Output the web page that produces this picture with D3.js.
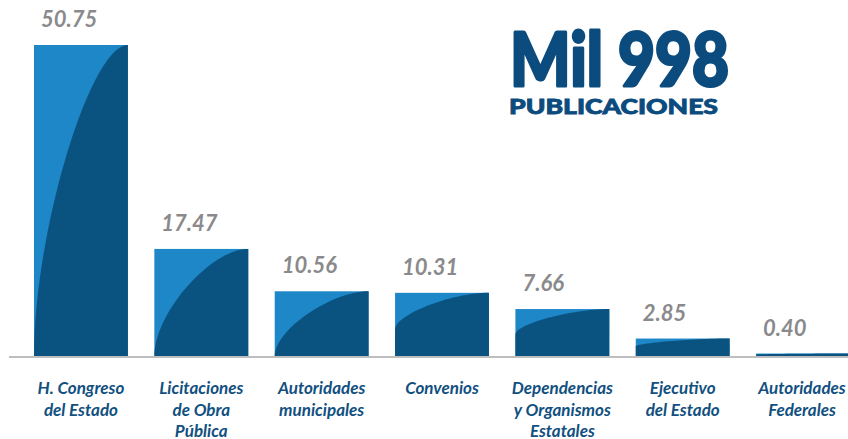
<!DOCTYPE html>
<html>
<head>
<meta charset="utf-8">
<script src="https://cdn.jsdelivr.net/npm/d3@7"></script>
<style>
  html, body { margin: 0; padding: 0; background: #fff; }
  svg { display: block; }
</style>
</head>
<body>
<div class="chart"></div>
<script>
var categories = [
    ['H. Congreso', 'del Estado'],
    ['Licitaciones', 'de Obra', 'Pública'],
    ['Autoridades', 'municipales'],
    ['Convenios'],
    ['Dependencias', 'y Organismos', 'Estatales'],
    ['Ejecutivo', 'del Estado'],
    ['Autoridades', 'Federales']
];
var values = [50.75, 17.47, 10.56, 10.31, 7.66, 2.85, 0.40];
var valueLabels = ['50.75', '17.47', '10.56', '10.31', '7.66', '2.85', '0.40'];
var titleBig = 'Mil 998';
var titleSmall = 'PUBLICACIONES';

var W = 848, H = 439;
var baseY = 356, topY = 45;
// how far up the left edge the dark curve begins (share of bar height)
var curveLift = [0, 0, 0, 0.42, 0.46, 0.55, 0.6];
var colors = { light: '#1e87c8', dark: '#0a5381', label: '#11507f', value: '#8a8a8c', title: '#0b4b7d', axis: '#a9a9a9' };

var svg = d3.select('.chart').append('svg')
    .attr('width', W)
    .attr('height', H);

var x = d3.scaleBand()
    .domain(d3.range(values.length))
    .range([34, 850])
    .paddingInner(0.22)
    .paddingOuter(0);

var y = d3.scaleLinear()
    .domain([0, d3.max(values)])
    .range([baseY, topY]);

svg.append('line')
    .attr('x1', 9).attr('x2', W)
    .attr('y1', baseY + 1).attr('y2', baseY + 1)
    .attr('stroke', colors.axis)
    .attr('stroke-width', 1.5);

var bars = svg.selectAll('.bar')
    .data(values)
    .enter().append('g')
    .attr('class', 'bar');

bars.append('rect')
    .attr('x', function(d, i) { return x(i); })
    .attr('y', function(d) { return y(d); })
    .attr('width', x.bandwidth())
    .attr('height', function(d) { return baseY - y(d); })
    .attr('fill', colors.light);

bars.append('path')
    .attr('fill', colors.dark)
    .attr('d', function(d, i) {
        var x0 = x(i), w = x.bandwidth(), x1 = x0 + w;
        var yt = y(d), h = baseY - yt;
        var ys = baseY - h * curveLift[i];
        var k = 0.4;
        var p = d3.path();
        p.moveTo(x0, baseY);
        p.lineTo(x0, ys);
        p.bezierCurveTo(x0, ys - (ys - yt) * k, x1 - w * k, yt, x1, yt);
        p.lineTo(x1, baseY);
        p.closePath();
        return p.toString();
    });

bars.append('text')
    .attr('x', function(d, i) { return x(i) + 7; })
    .attr('y', function(d) { return y(d) - 18; })
    .attr('fill', colors.value)
    .style('font-family', 'Lato, "Open Sans", sans-serif')
    .style('font-style', 'italic')
    .style('font-weight', 700)
    .style('font-size', '22px')
    .text(function(d, i) { return valueLabels[i]; });

bars.append('text')
    .attr('text-anchor', 'middle')
    .attr('fill', colors.label)
    .style('font-family', 'Lato, "Open Sans", sans-serif')
    .style('font-style', 'italic')
    .style('font-weight', 700)
    .style('font-size', '17px')
    .each(function(d, i) {
        var t = d3.select(this);
        categories[i].forEach(function(line, j) {
            t.append('tspan')
                .attr('x', Math.min(x(i) + x.bandwidth() / 2, W - 46))
                .attr('y', 394 + j * 21.5)
                .text(line);
        });
    });

svg.append('text')
    .attr('x', 510)
    .attr('y', 86)
    .attr('fill', colors.title)
    .attr('stroke', colors.title)
    .attr('stroke-width', 3)
    .attr('stroke-linejoin', 'round')
    .attr('textLength', 219)
    .attr('lengthAdjust', 'spacingAndGlyphs')
    .style('font-family', 'Lato, "Open Sans", sans-serif')
    .style('font-weight', 900)
    .style('font-size', '74px')
    .text(titleBig);

svg.append('text')
    .attr('x', 509)
    .attr('y', 114)
    .attr('fill', colors.title)
    .attr('stroke', colors.title)
    .attr('stroke-width', 0.8)
    .attr('textLength', 209)
    .attr('lengthAdjust', 'spacingAndGlyphs')
    .style('font-family', 'Lato, "Open Sans", sans-serif')
    .style('font-weight', 900)
    .style('font-size', '20px')
    .text(titleSmall);
</script>
</body>
</html>
